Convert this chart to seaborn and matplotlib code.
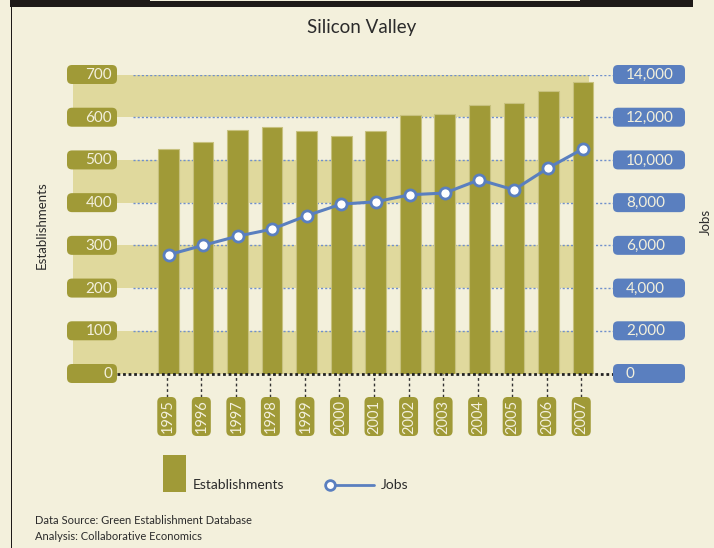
import matplotlib.pyplot as plt
import matplotlib.patches as mpatches
from matplotlib.lines import Line2D
from matplotlib.transforms import IdentityTransform
import numpy as np
import seaborn as sns

# data
years = ['1995', '1996', '1997', '1998', '1999', '2000', '2001',
         '2002', '2003', '2004', '2005', '2006', '2007']
establishments = [525, 542, 569, 577, 567, 555, 568, 605, 608, 629, 634, 661, 683]
jobs = [5560, 6000, 6430, 6760, 7390, 7930, 8040, 8370, 8450, 9070, 8600, 9630, 10520]
est_ticks = [0, 100, 200, 300, 400, 500, 600, 700]
job_ticks = [0, 2000, 4000, 6000, 8000, 10000, 12000, 14000]
job_tick_labels = ['0', '2,000', '4,000', '6,000', '8,000', '10,000', '12,000', '14,000']

BG = '#f3f0dc'
BAND = '#e0d99d'
OLIVE = '#a09a37'
BLUE = '#5a7fbf'
TXT = '#2b2b2b'
W, H = 714, 548
IDT = IdentityTransform()

sns.set_theme(style='white')
plt.rcParams['font.family'] = ['Lato', 'DejaVu Sans']

fig = plt.figure(figsize=(W / 100, H / 100), dpi=100, facecolor=BG)


def top(y):
    # pixel y from the top -> display y
    return H - y


def rbox(x0, y0, w, h, color, r=5):
    fig.add_artist(mpatches.FancyBboxPatch(
        (x0, y0), w, h, boxstyle=f'round,pad=0,rounding_size={r}',
        transform=IDT, fc=color, ec='none'))


ax = fig.add_axes([73 / W, 1 - 373.5 / H, 540 / W, 299 / H])
ax.set_facecolor(BG)

# alternating bands
for lo in [0, 200, 400, 600]:
    ax.axhspan(lo, lo + 100, xmin=0, xmax=0.955, color=BAND, lw=0, zorder=0)

# dotted grid
ax.hlines(est_ticks[1:], -1.03, 12.87, colors='#6f8fcc',
          linestyles=(0, (1.5, 1.5)), lw=1, zorder=1)

sns.barplot(x=years, y=establishments, ax=ax, color=OLIVE, saturation=1,
            width=0.6, edgecolor='#c7c17e', linewidth=0.8, zorder=3)

ax.set_xlim(-2.765, 12.869)
ax.set_ylim(0, 700)
ax.set_xticks([])
ax.set_yticks([])
ax.set_xlabel('')
ax.set_ylabel('')
for s in ax.spines.values():
    s.set_visible(False)

# zero line and tick connectors
ax.hlines(0, -1.49, 13.07, colors='#222222', linestyles=(0, (1, 1)),
          lw=2, clip_on=False, zorder=4)
ax.vlines(np.arange(len(years)) - 0.05, -55, 0, colors='#333333',
          linestyles=(0, (2, 2)), lw=1, clip_on=False, zorder=4)

ax2 = ax.twinx()
sns.lineplot(x=np.arange(len(years)), y=jobs, ax=ax2, color=BLUE, lw=2.2,
             marker='o', markersize=8, markerfacecolor='white',
             markeredgecolor=BLUE, markeredgewidth=2, zorder=5)
ax2.set_xlim(-2.765, 12.869)
ax2.set_ylim(0, 14000)
ax2.set_yticks([])
ax2.set_ylabel('')
for s in ax2.spines.values():
    s.set_visible(False)

# left tick boxes
for v in est_ticks:
    yd = ax.transData.transform((0, v))[1]
    rbox(67, yd - 9.5, 50, 19, OLIVE)
    fig.text(112, yd - 0.5, str(v), ha='right', va='center', color=BG,
             fontsize=11, transform=IDT)

# right tick boxes
for v, lab in zip(job_ticks, job_tick_labels):
    yd = ax2.transData.transform((0, v))[1]
    rbox(613, yd - 9.5, 72, 19, BLUE)
    fig.text(626, yd - 0.5, lab, ha='left', va='center', color=BG,
             fontsize=11, transform=IDT)

# year boxes
for i, yr in enumerate(years):
    xd = ax.transData.transform((i - 0.05, 0))[0]
    rbox(xd - 9.5, top(436), 19, 39, OLIVE)
    fig.text(xd + 0.5, top(416.5), yr, rotation=90, ha='center', va='center',
             color=BG, fontsize=10.5, transform=IDT)

# texts
fig.text(362, top(27), 'Silicon Valley', ha='center', va='center',
         color=TXT, fontsize=13.5, transform=IDT)
fig.text(42, top(225), 'Establishments', rotation=90, ha='center',
         va='center', color=TXT, fontsize=9.5, transform=IDT)
fig.text(706, top(222), 'Jobs', rotation=90, ha='center', va='center',
         color=TXT, fontsize=9.5, transform=IDT)

# legend
fig.add_artist(mpatches.Rectangle((163, top(492)), 23, 37, transform=IDT,
                                  fc=OLIVE, ec='none'))
fig.text(193, top(485), 'Establishments', ha='left', va='center',
         color=TXT, fontsize=10, transform=IDT)
fig.add_artist(Line2D([330, 374], [top(485), top(485)], transform=IDT,
                      color=BLUE, lw=2))
fig.add_artist(Line2D([330], [top(485)], transform=IDT, marker='o',
                      markersize=7, markerfacecolor='white',
                      markeredgecolor=BLUE, markeredgewidth=2))
fig.text(381, top(485), 'Jobs', ha='left', va='center',
         color=TXT, fontsize=10, transform=IDT)

fig.text(35, top(520), 'Data Source: Green Establishment Database',
         ha='left', va='center', color=TXT, fontsize=8, transform=IDT)
fig.text(35, top(537), 'Analysis: Collaborative Economics',
         ha='left', va='center', color=TXT, fontsize=8, transform=IDT)

# frame
fig.add_artist(mpatches.Rectangle((10, top(6.5)), 683, 6.5, transform=IDT,
                                  fc='#1e1a18', ec='none'))
fig.add_artist(mpatches.Rectangle((150, top(1.2)), 430, 1.2, transform=IDT,
                                  fc=BG, ec='none'))
fig.add_artist(mpatches.Rectangle((10.5, 0), 1.3, H, transform=IDT,
                                  fc='#1e1a18', ec='none'))

fig.savefig('out.png', dpi=100, facecolor=BG)
